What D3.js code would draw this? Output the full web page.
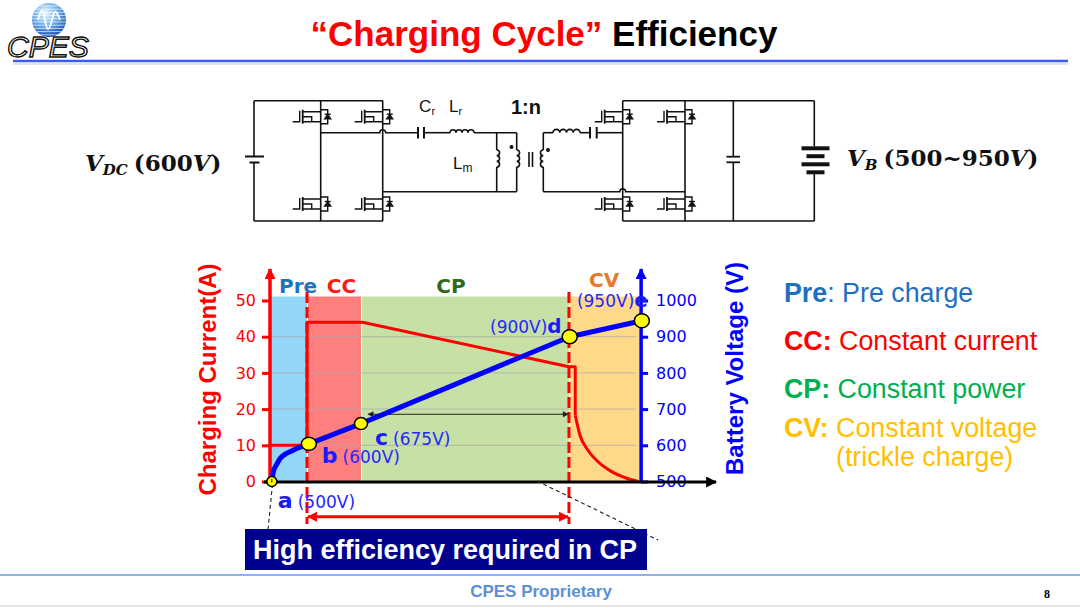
<!DOCTYPE html>
<html><head><meta charset="utf-8">
<script src="https://cdn.jsdelivr.net/npm/d3@7"></script>
<style>body{margin:0;background:#fff}svg{display:block}</style>
</head><body>
<svg id="c" width="1080" height="608"></svg>
<script>
// ---------------- data ----------------
const phases = ["Pre", "CC", "CP", "CV"];
const phaseBounds = [0, 10, 24.6, 80.8, 100];
const phaseLabelT = [7.6, 19.3, 48.9, 90.3];
const currentMainT = [0, 10, 10, 25, 80.8, 82.5, 82.5];
const currentMainA = [10, 10, 44, 44, 31.7, 31.7, 18.3];
const currentDecayT = [82.5, 83.8, 85.6, 88.3, 91.9, 96.4, 99.5];
const currentDecayA = [18.3, 12.7, 9.1, 5.8, 3.0, 0.9, 0];
const voltPreT = [0.5, 0.9, 1.8, 2.7, 4.05, 5.4, 7.2, 9.5, 10.5];
const voltPreV = [500, 527, 547, 563, 575, 582, 591, 600, 604];
const voltMainT = [10.5, 24.6, 81, 100.5];
const voltMainV = [604, 660, 900, 944];
const pointNames = ["a", "b", "c", "d", "e"];
const pointT = [0.5, 10.5, 24.6, 81, 100.5];
const pointV = [500, 604, 660, 900, 944];
const pointLabels = ["(500V)", "(600V)", "(675V)", "(900V)", "(950V)"];
const currentTicks = [0, 10, 20, 30, 40, 50];
const voltTicks = [500, 600, 700, 800, 900, 1000];
const gridCurrent = [10, 20, 30, 40];
const legendKeys = ["Pre", "CC:", "CP:", "CV:"];
const legendTexts = [": Pre charge", " Constant current", " Constant power", " Constant voltage"];
const legendExtra = "(trickle charge)";

// ---------------- setup ----------------
const svg = d3.select("#c");
const defs = svg.append("defs");
function marker(id, color, w, h) {
  defs.append("marker").attr("id", id).attr("viewBox", "0 0 10 10")
    .attr("refX", 9).attr("refY", 5).attr("markerUnits", "userSpaceOnUse")
    .attr("markerWidth", w).attr("markerHeight", h).attr("orient", "auto-start-reverse")
    .append("path").attr("d", "M0,0L10,5L0,10z").attr("fill", color);
}
marker("arR", "#ff0000", 12, 11);
marker("arB", "#0000ff", 12, 11);
marker("arK", "#000", 13, 11);
marker("arG", "#222", 8, 6);
marker("arR2", "#ff0000", 11, 10);

// ---------------- header ----------------
const rg = defs.append("radialGradient").attr("id", "lg").attr("cx", "40%").attr("cy", "30%").attr("r", "70%");
rg.append("stop").attr("offset", "0%").attr("stop-color", "#e8f6ff");
rg.append("stop").attr("offset", "50%").attr("stop-color", "#6fb2ee");
rg.append("stop").attr("offset", "100%").attr("stop-color", "#1d4fb5");
defs.append("clipPath").attr("id", "lc").append("circle").attr("cx", 49).attr("cy", 20).attr("r", 17);
const logo = svg.append("g");
logo.append("circle").attr("cx", 49).attr("cy", 20).attr("r", 17).attr("fill", "url(#lg)");
const stripes = logo.append("g").attr("clip-path", "url(#lc)");
d3.range(6, 36, 3.2).forEach(yy => stripes.append("line").attr("x1", 30).attr("x2", 68)
  .attr("y1", yy).attr("y2", yy).attr("stroke", "#fff").attr("stroke-width", 0.9).attr("opacity", 0.75));
logo.append("path").attr("d", "M38,20 C41,8 43,8 45,20 S49,32 52,20 S56,10 60,20")
  .attr("fill", "none").attr("stroke", "#fff").attr("stroke-width", 1.8);
logo.append("text").attr("x", 7).attr("y", 57).text("CPES")
  .style("font", "italic 30px 'Liberation Sans'").attr("fill", "#fff").attr("stroke", "#111").attr("stroke-width", 1.4);

svg.append("line").attr("x1", 13).attr("x2", 1068).attr("y1", 64).attr("y2", 64).attr("stroke", "#e3e3e3").attr("stroke-width", 2);
svg.append("line").attr("x1", 13).attr("x2", 1068).attr("y1", 61).attr("y2", 61).attr("stroke", "#3b5cf0").attr("stroke-width", 2.5);

const title = svg.append("text").attr("x", 544).attr("y", 46).attr("text-anchor", "middle")
  .style("font", "bold 35px 'Liberation Sans'");
title.append("tspan").attr("fill", "#ff0000").text("\u201CCharging Cycle\u201D");
title.append("tspan").attr("fill", "#000").text(" Efficiency");

// ---------------- circuit ----------------
const cg = svg.append("g").attr("stroke", "#111").attr("stroke-width", 1.6).attr("fill", "none");
function pl(pts, w) { const p = cg.append("path").attr("d", "M" + pts.map(q => q.join(",")).join("L")); if (w) p.attr("stroke-width", w); return p; }
function coilV(xx, y1, y2, dir) {
  const n = 3, h = (y2 - y1) / n; let d = `M${xx},${y1}`;
  for (let i = 0; i < n; i++) d += `a${h / 2},${h / 2} 0 0 ${dir > 0 ? 1 : 0} 0,${h}`;
  cg.append("path").attr("d", d);
}
function coilH(x1, x2, yy) {
  const n = 4, w = (x2 - x1) / n; let d = `M${x1},${yy}`;
  for (let i = 0; i < n; i++) d += `a${w / 2},${w / 2} 0 0 1 ${w},0`;
  cg.append("path").attr("d", d);
}
function hopH(x1, xc, x2, yy) {
  cg.append("path").attr("d", `M${x1},${yy}H${xc - 3}a3,3 0 0 1 6,0H${x2}`);
}
function mosfet(L, Y) {
  const m = cg.append("g").attr("stroke-width", 1.4);
  m.append("path").attr("d", `M${L - 28},${Y + 5}H${L - 21}V${Y - 6}`);
  m.append("path").attr("d", `M${L - 18},${Y - 7}V${Y + 7}`).attr("stroke-width", 1.8);
  m.append("path").attr("d", `M${L - 18},${Y - 5}H${L}M${L - 18},${Y + 5}H${L}M${L - 18},${Y}H${L - 9}V${Y + 5}`);
  m.append("path").attr("d", `M${L},${Y - 7}H${L + 7}V${Y + 7}H${L}`);
  m.append("path").attr("d", `M${L + 4},${Y + 2}L${L + 10},${Y + 2}L${L + 7},${Y - 2}Z`).attr("fill", "#111");
  m.append("path").attr("d", `M${L + 4},${Y - 2.5}H${L + 10}`);
}
pl([[254, 100.7], [383, 100.7]]);
pl([[254, 221], [383, 221]]);
pl([[254, 100.7], [254, 156.5]]); pl([[254, 162.5], [254, 221]]);
pl([[245, 156.5], [264, 156.5]], 2); pl([[249.5, 162.5], [259.5, 162.5]], 2);
pl([[320.7, 100.7], [320.7, 221]]);
pl([[382.7, 100.7], [382.7, 221]]);
hopH(320.7, 382.7, 418, 132.7);
pl([[418, 127], [418, 138.5]], 2); pl([[424, 127], [424, 138.5]], 2);
pl([[424, 132.7], [450, 132.7]]);
coilH(450, 474, 132.7);
pl([[474, 132.7], [516.7, 132.7]]);
pl([[382.7, 191.7], [516.7, 191.7]]);
pl([[496.7, 132.7], [496.7, 150]]); coilV(496.7, 150, 167, 1); pl([[496.7, 167], [496.7, 191.7]]);
pl([[516.7, 132.7], [516.7, 150]]); coilV(516.7, 150, 167, 1); pl([[516.7, 167], [516.7, 191.7]]);
pl([[529, 152], [529, 167]]); pl([[532.5, 152], [532.5, 167]]);
pl([[543.3, 132.7], [543.3, 150]]); coilV(543.3, 150, 167, -1); pl([[543.3, 167], [543.3, 191.7]]);
cg.append("circle").attr("cx", 511.5).attr("cy", 147).attr("r", 1.2).attr("fill", "#111");
cg.append("circle").attr("cx", 548).attr("cy", 150).attr("r", 1.2).attr("fill", "#111");
pl([[543.3, 132.7], [553, 132.7]]); coilH(553, 580, 132.7); pl([[580, 132.7], [590, 132.7]]);
pl([[590, 127], [590, 138.5]], 2); pl([[596.7, 127], [596.7, 138.5]], 2);
pl([[596.7, 132.7], [622.7, 132.7]]);
hopH(543.3, 622.7, 685, 191.7);
pl([[622.7, 100.7], [622.7, 221]]);
pl([[685, 100.7], [685, 221]]);
pl([[622.7, 100.7], [814.3, 100.7]]);
pl([[622.7, 221], [814.3, 221]]);
pl([[733.3, 100.7], [733.3, 156.7]]); pl([[733.3, 162.3], [733.3, 221]]);
pl([[726.5, 156.7], [740, 156.7]], 1.8); pl([[726.5, 162.3], [740, 162.3]], 1.8);
pl([[814.3, 100.7], [814.3, 146.5]]); pl([[814.3, 174], [814.3, 221]]);
pl([[801.5, 148.3], [829.5, 148.3]], 4); pl([[806.5, 156.2], [824.5, 156.2]], 4);
pl([[801.5, 164.3], [829.5, 164.3]], 4); pl([[806.5, 172.3], [824.5, 172.3]], 4);
[320.7, 382.7, 622.7, 685].forEach(L => { mosfet(L, 116.7); mosfet(L, 204); });
const lab = (x, y, t, f) => svg.append("text").attr("x", x).attr("y", y).text(t).style("font", f).attr("fill", "#111");
lab(419, 111.5, "C", "17px 'Liberation Sans'"); lab(431.5, 115, "r", "11px 'Liberation Sans'");
lab(449, 111.5, "L", "17px 'Liberation Sans'"); lab(458.5, 115, "r", "11px 'Liberation Sans'");
lab(453, 168.5, "L", "17px 'Liberation Sans'"); lab(462.5, 171.5, "m", "12px 'Liberation Sans'");
lab(511, 114, "1:n", "bold 20px 'Liberation Sans'");
function mathLabel(x, y, sub, rest) {
  const t = svg.append("text").attr("x", x).attr("y", y).attr("fill", "#111").style("font", "bold 23px 'DejaVu Serif'");
  t.append("tspan").style("font-style", "italic").text("V");
  t.append("tspan").style("font-style", "italic").style("font-size", "15px").attr("dy", 4).text(sub);
  t.append("tspan").attr("dy", -4).attr("dx", 6).text(rest);
  t.append("tspan").style("font-style", "italic").text("V");
  t.append("tspan").text(")");
}
mathLabel(85, 171, "DC", "(600");
mathLabel(847, 166, "B", "(500~950");

// ---------------- chart ----------------
const x = d3.scaleLinear().domain([0, 100]).range([270, 640]);
const yI = d3.scaleLinear().domain([0, 50]).range([481.5, 300.5]);
const yV = d3.scaleLinear().domain([500, 1000]).range([481.5, 300.5]);
const phaseFill = ["#93d6f5", "#ff7f7f", "#c6e0a5", "#ffd98a"];
const phaseText = ["#1e73be", "#ff1a1a", "#2f6b1e", "#e8782a"];
const regTop = yI(51.1);
svg.append("g").selectAll("rect").data(phases).join("rect")
  .attr("x", (d, i) => x(phaseBounds[i]) + (i ? 1 : 0))
  .attr("width", (d, i) => x(phaseBounds[i + 1]) - x(phaseBounds[i]) - (i ? 1 : 0))
  .attr("y", regTop).attr("height", yI(0) - regTop)
  .attr("fill", (d, i) => phaseFill[i]);
svg.append("g").selectAll("line").data(gridCurrent).join("line")
  .attr("x1", x(0)).attr("x2", x(99)).attr("y1", d => yI(d)).attr("y2", d => yI(d))
  .attr("stroke", "#a8a8a8").attr("stroke-width", 1).attr("opacity", 0.7);
svg.append("g").selectAll("text").data(phases).join("text")
  .attr("x", (d, i) => x(phaseLabelT[i])).attr("y", (d, i) => i === 3 ? 286.5 : 293)
  .attr("text-anchor", "middle").attr("fill", (d, i) => phaseText[i])
  .style("font", "bold 20px 'DejaVu Sans'").text(d => d);

[phaseBounds[1], phaseBounds[3]].forEach(t => {
  svg.append("line").attr("x1", x(t)).attr("x2", x(t)).attr("y1", 292).attr("y2", 524)
    .attr("stroke", "#ff0000").attr("stroke-width", 3).attr("stroke-dasharray", "11,4");
});

svg.append("line").attr("x1", x(26.5)).attr("x2", x(80.6)).attr("y1", 414.3).attr("y2", 414.3)
  .attr("stroke", "#222").attr("stroke-width", 1.1)
  .attr("marker-start", "url(#arG)").attr("marker-end", "url(#arG)");

svg.append("path").datum(currentMainT.map((t, i) => [t, currentMainA[i]]))
  .attr("d", d3.line().x(d => x(d[0])).y(d => yI(d[1])))
  .attr("fill", "none").attr("stroke", "#ff0000").attr("stroke-width", 3).attr("stroke-linejoin", "round");
svg.append("path").datum(currentDecayT.map((t, i) => [t, currentDecayA[i]]))
  .attr("d", d3.line().x(d => x(d[0])).y(d => yI(d[1])).curve(d3.curveMonotoneX))
  .attr("fill", "none").attr("stroke", "#ff0000").attr("stroke-width", 3);

const axL = svg.append("g").attr("transform", `translate(${x(0)},0)`)
  .call(d3.axisLeft(yI).tickValues(currentTicks).tickSize(8).tickPadding(6).tickFormat(d3.format("d")));
axL.select(".domain").remove();
axL.selectAll(".tick line").attr("stroke", "#ff0000").attr("stroke-width", 3);
axL.selectAll(".tick text").attr("fill", "#ff0000").style("font", "16px 'DejaVu Sans'");
const xr = x(100.3);
const axR = svg.append("g").attr("transform", `translate(${xr},0)`)
  .call(d3.axisRight(yV).tickValues(voltTicks).tickSize(7).tickPadding(8).tickFormat(d3.format("d")));
axR.select(".domain").remove();
axR.selectAll(".tick line").attr("stroke", "#0000ff").attr("stroke-width", 3);
axR.selectAll(".tick text").attr("fill", "#0000ff").style("font", "16px 'DejaVu Sans'");

svg.append("line").attr("x1", x(0)).attr("x2", x(0)).attr("y1", 483).attr("y2", 269)
  .attr("stroke", "#ff0000").attr("stroke-width", 3.5).attr("marker-end", "url(#arR)");
svg.append("line").attr("x1", xr).attr("x2", xr).attr("y1", 483).attr("y2", 269)
  .attr("stroke", "#0000ff").attr("stroke-width", 3.5).attr("marker-end", "url(#arB)");
svg.append("line").attr("x1", 264).attr("x2", 716).attr("y1", 482).attr("y2", 482)
  .attr("stroke", "#000").attr("stroke-width", 3).attr("marker-end", "url(#arK)");

svg.append("line").attr("x1", 272.5).attr("y1", 484).attr("x2", 268).attr("y2", 530)
  .attr("stroke", "#222").attr("stroke-width", 1.1).attr("stroke-dasharray", "4,3");
svg.append("line").attr("x1", 537).attr("y1", 481).attr("x2", 658).attr("y2", 540)
  .attr("stroke", "#222").attr("stroke-width", 1.1).attr("stroke-dasharray", "4,3");

svg.append("path").datum(voltPreT.map((t, i) => [t, voltPreV[i]]))
  .attr("d", d3.line().x(d => x(d[0])).y(d => yV(d[1])).curve(d3.curveMonotoneX))
  .attr("fill", "none").attr("stroke", "#0000ff").attr("stroke-width", 5).attr("stroke-linecap", "round");
svg.append("path").datum(voltMainT.map((t, i) => [t, voltMainV[i]]))
  .attr("d", d3.line().x(d => x(d[0])).y(d => yV(d[1])))
  .attr("fill", "none").attr("stroke", "#0000ff").attr("stroke-width", 5).attr("stroke-linejoin", "round");

const rx = [5, 7.5, 6.5, 7.5, 7.5], ry = [5, 6.5, 6, 7, 7];
svg.append("g").selectAll("ellipse").data(pointNames).join("ellipse")
  .attr("cx", (d, i) => x(pointT[i])).attr("cy", (d, i) => yV(pointV[i]))
  .attr("rx", (d, i) => rx[i]).attr("ry", (d, i) => ry[i])
  .attr("fill", "#ffff00").attr("stroke", "#000").attr("stroke-width", 1.5);
svg.append("line").attr("x1", x(pointT[0])).attr("x2", x(pointT[0])).attr("y1", yV(500) - 2.5).attr("y2", yV(500) + 1)
  .attr("stroke", "#000").attr("stroke-width", 1);

const lo = [[6, 26, "start", "name"], [13, 19, "start", "name"], [14, 21, "start", "name"], [-8, -4, "end", "label"], [6, -14, "end", "label"]];
pointNames.forEach((n, i) => {
  const px = x(pointT[i]) + lo[i][0], py = yV(pointV[i]) + lo[i][1];
  const t = svg.append("text").attr("x", px).attr("y", py).attr("text-anchor", lo[i][2]);
  if (lo[i][3] === "name") {
    t.append("tspan").style("font", "bold 22px 'DejaVu Sans'").attr("fill", "#1a1aff").text(n);
    t.append("tspan").attr("dx", 5).style("font", "17px 'DejaVu Sans'").attr("fill", "#2626ff").text(pointLabels[i]);
  } else {
    t.append("tspan").style("font", "17px 'DejaVu Sans'").attr("fill", "#2626ff").text(pointLabels[i]);
    t.append("tspan").style("font", "bold 20px 'DejaVu Sans'").attr("fill", "#1a1aff").text(n);
  }
});

svg.append("line").attr("x1", x(phaseBounds[1]) + 1).attr("x2", x(phaseBounds[3]) - 1).attr("y1", 516.7).attr("y2", 516.7)
  .attr("stroke", "#ff0000").attr("stroke-width", 3)
  .attr("marker-start", "url(#arR2)").attr("marker-end", "url(#arR2)");

svg.append("text").attr("transform", "translate(216,379.5) rotate(-90)").attr("text-anchor", "middle")
  .attr("fill", "#ff0000").style("font", "bold 24px 'Liberation Sans'").text("Charging Current(A)");
svg.append("text").attr("transform", "translate(743,368.5) rotate(-90)").attr("text-anchor", "middle")
  .attr("fill", "#0000ff").style("font", "bold 24px 'Liberation Sans'").text("Battery Voltage (V)");

svg.append("rect").attr("x", 245).attr("y", 529).attr("width", 402).attr("height", 41).attr("fill", "#00008f");
svg.append("text").attr("x", 445).attr("y", 559).attr("text-anchor", "middle").attr("fill", "#fff")
  .style("font", "bold 27px 'Liberation Sans'").text("High efficiency required in CP");

const legColors = ["#1f6fc0", "#ff0000", "#00b050", "#ffc000"];
const legY = [301.7, 350, 398.3, 436.7];
legendKeys.forEach((k, i) => {
  const t = svg.append("text").attr("x", 784).attr("y", legY[i]).attr("fill", legColors[i]).style("font", "26.8px 'Liberation Sans'");
  t.append("tspan").style("font-weight", "bold").text(k);
  t.append("tspan").text(legendTexts[i]);
});
svg.append("text").attr("x", 836).attr("y", 466).attr("fill", legColors[3]).style("font", "26.8px 'Liberation Sans'").text(legendExtra);

svg.append("line").attr("x1", 0).attr("x2", 1080).attr("y1", 575).attr("y2", 575).attr("stroke", "#8db4e2").attr("stroke-width", 2);
svg.append("line").attr("x1", 0).attr("x2", 1080).attr("y1", 606).attr("y2", 606).attr("stroke", "#e6e6e6").attr("stroke-width", 2);
svg.append("text").attr("x", 541).attr("y", 597).attr("text-anchor", "middle").attr("fill", "#5b8fd6")
  .style("font", "bold 17px 'Liberation Sans'").text("CPES Proprietary");
svg.append("text").attr("x", 1044).attr("y", 598).attr("fill", "#000")
  .style("font", "bold 12px 'Liberation Serif'").text("8");
</script>
</body></html>
